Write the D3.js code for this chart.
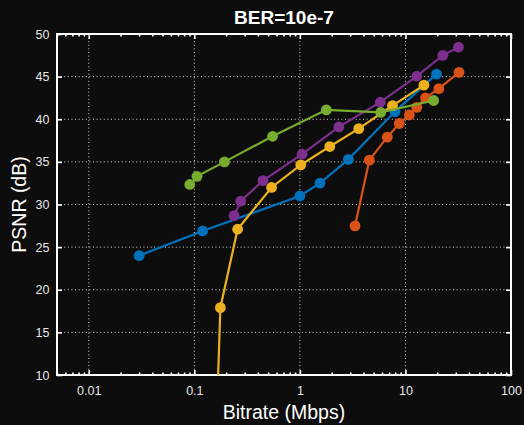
<!DOCTYPE html>
<html><head><meta charset="utf-8">
<script src="https://cdn.jsdelivr.net/npm/d3@7"></script>
<style>
html,body{margin:0;padding:0;background:#0d0d0d;}
svg{display:block;}
text{font-family:"Liberation Sans",Arial,sans-serif;}
</style></head>
<body><svg id="c" width="524" height="425"></svg>
<script>
// ---- data ----
const seriesNames = ["S1","S2","S3","S4","S5"];
const colors = ["#0072BD","#D95319","#EDB120","#7E2F8E","#77AC30"];
const blueX = [0.03,0.12,1.0,1.55,2.88,7.96,19.7];
const blueY = [24.0,26.9,31.0,32.5,35.3,40.9,45.3];
const orangeX = [3.33,4.55,6.73,8.74,10.9,12.8,15.5,20.7,32.2];
const orangeY = [27.5,35.2,37.9,39.5,40.5,41.4,42.5,43.6,45.5];
const yellowX = [0.163,0.1765,0.257,0.539,1.02,1.92,3.61,7.54,14.96];
const yellowY = [5.0,17.9,27.1,32.0,34.65,36.8,38.9,41.6,44.0];
const purpleX = [0.238,0.275,0.447,1.05,2.34,5.78,12.8,22.6,31.8];
const purpleY = [28.7,30.4,32.8,35.9,39.1,42.0,45.05,47.5,48.45];
const greenX = [0.0905,0.106,0.193,0.551,1.78,5.83,18.5];
const greenY = [32.35,33.3,35.0,38.0,41.1,40.8,42.2];
const xMajorTicks = [0.01,0.1,1,10,100];
const xTickLabels = ["0.01","0.1","1","10","100"];
const yTicks = [10,15,20,25,30,35,40,45,50];
const titleText = "BER=10e-7";
const xLabel = "Bitrate (Mbps)";
const yLabel = "PSNR (dB)";

const seriesX = [blueX,orangeX,yellowX,purpleX,greenX];
const seriesY = [blueY,orangeY,yellowY,purpleY,greenY];

// ---- layout ----
const L=57,R=511,T=34,B=375;
const svg = d3.select("#c");
svg.append("rect").attr("width",524).attr("height",425).attr("fill","#0d0d0d");

const x = d3.scaleLog().domain([0.005,100]).range([L,R]);
const y = d3.scaleLinear().domain([10,50]).range([B,T]);

const minorTicks = [];
[0.001,0.01,0.1,1,10].forEach(d=>{for(let k=2;k<=9;k++){const v=d*k; if(v>=0.005&&v<100) minorTicks.push(+v.toPrecision(3));}});

// grid
const grid = svg.append("g").attr("stroke","#d8d8d8").attr("stroke-width",1).attr("stroke-dasharray","1,2.6");
grid.selectAll("line.vx").data(xMajorTicks.filter(d=>d<100)).join("line")
  .attr("x1",d=>x(d)).attr("x2",d=>x(d)).attr("y1",T).attr("y2",B);
grid.selectAll("line.hy").data(yTicks.filter(d=>d>10&&d<50)).join("line")
  .attr("class","hy").attr("x1",L).attr("x2",R).attr("y1",d=>y(d)).attr("y2",d=>y(d));

// axes
function style(g){
  g.select(".domain").remove();
  g.selectAll("line").attr("stroke","#ffffff").attr("stroke-width",1.6);
  g.selectAll("text").attr("fill","#e8e8e8").attr("font-size","12.5px");
}
svg.append("g").attr("transform",`translate(0,${B})`)
  .call(d3.axisBottom(x).tickValues(xMajorTicks).tickFormat((d,i)=>xTickLabels[i]).tickSize(-5).tickPadding(11)).call(style);
svg.append("g").attr("transform",`translate(0,${B})`)
  .call(d3.axisBottom(x).tickValues(minorTicks).tickFormat("").tickSize(-2.5)).call(style);
svg.append("g").attr("transform",`translate(0,${T})`)
  .call(d3.axisTop(x).tickValues(xMajorTicks).tickFormat("").tickSize(-5)).call(style);
svg.append("g").attr("transform",`translate(0,${T})`)
  .call(d3.axisTop(x).tickValues(minorTicks).tickFormat("").tickSize(-2.5)).call(style);
svg.append("g").attr("transform",`translate(${L},0)`)
  .call(d3.axisLeft(y).tickValues(yTicks).tickSize(-5).tickPadding(7.5)).call(style);
svg.append("g").attr("transform",`translate(${R},0)`)
  .call(d3.axisRight(y).tickValues(yTicks).tickFormat("").tickSize(-5)).call(style);

// box
svg.append("rect").attr("x",L).attr("y",T).attr("width",R-L).attr("height",B-T)
  .attr("fill","none").attr("stroke","#ffffff").attr("stroke-width",2);

// clip
svg.append("clipPath").attr("id","clip").append("rect").attr("x",L).attr("y",T).attr("width",R-L).attr("height",B-T);
const plot = svg.append("g").attr("clip-path","url(#clip)");
const line = d3.line().x(d=>x(d[0])).y(d=>y(d[1]));
seriesX.forEach((xs,i)=>{
  const pts = xs.map((v,j)=>[v,seriesY[i][j]]);
  const g = plot.append("g");
  g.append("path").datum(pts).attr("d",line).attr("fill","none").attr("stroke",colors[i]).attr("stroke-width",2.2);
  g.selectAll("circle").data(pts.filter(p=>p[1]>=10)).join("circle")
    .attr("cx",d=>x(d[0])).attr("cy",d=>y(d[1])).attr("r",5.4).attr("fill",colors[i]);
});

// texts
svg.append("text").attr("x",(L+R)/2).attr("y",24.3).attr("text-anchor","middle")
  .attr("fill","#ffffff").attr("font-weight","bold").attr("font-size","19px").text(titleText);
svg.append("text").attr("x",(L+R)/2).attr("y",419).attr("text-anchor","middle")
  .attr("fill","#ffffff").attr("font-size","19.5px").text(xLabel);
svg.append("text").attr("transform",`translate(26,${(T+B)/2}) rotate(-90)`).attr("text-anchor","middle")
  .attr("fill","#ffffff").attr("font-size","19.5px").text(yLabel);
</script></body></html>
